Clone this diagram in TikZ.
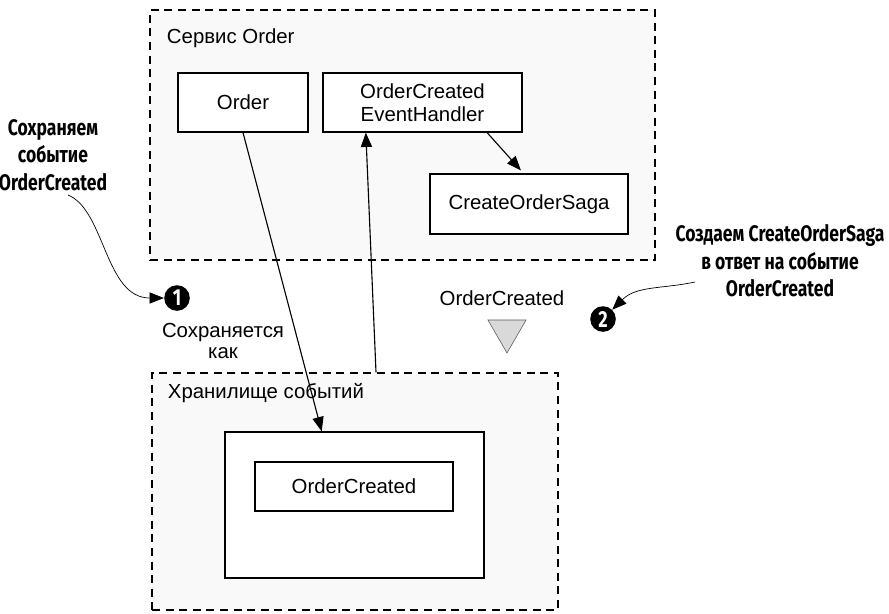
\documentclass[tikz,border=0pt]{standalone}
\usepackage{fontspec}
\setmainfont{Liberation Sans}
\newfontfamily\notefont[FakeStretch=0.78]{Fira Sans}
\usetikzlibrary{arrows.meta,positioning,shapes.geometric}

\begin{document}
\begin{tikzpicture}[font=\fontsize{14.5}{16.4}\selectfont,>={Triangle[length=0.36cm,width=0.28cm]},
  group/.style={draw,line width=0.9pt,dash pattern=on 0.2cm off 0.14cm,fill=gray!5},
  box/.style={draw,line width=0.9pt,fill=white,align=center,inner sep=2pt},
  note/.style={align=center,font=\notefont\bfseries\fontsize{16}{19.6}\selectfont},
  num/.style={circle,fill=black,text=white,inner sep=0pt,minimum size=0.64cm,font=\notefont\bfseries\fontsize{16.5}{16.5}\selectfont}]
  \useasboundingbox (0,0) rectangle (22.225,-15.325);
  % Order service
  \node[group,minimum width=12.625cm,minimum height=6.25cm] (svc) at (10.0625,-3.375) {};
  \node[anchor=west] (svctitle) at (4.05,-0.95) {Сервис Order};
  \node[box,minimum width=3.25cm,minimum height=1.475cm] (order) at (6.075,-2.5625) {Order};
  \node[box,minimum width=4.975cm,minimum height=1.475cm] (handler) at (10.5625,-2.5625) {OrderCreated\\EventHandler};
  \node[box,minimum width=4.95cm,minimum height=1.5cm] (saga) at (13.225,-5.1) {CreateOrderSaga};
  % event store
  \node[group,minimum width=10.15cm,minimum height=5.925cm] (esg) at (8.875,-12.2875) {};
  \node[anchor=west] (esgtitle) at (4.075,-9.825) {Хранилище событий};
  \node[box,minimum width=6.475cm,minimum height=3.65cm] (store) at (8.8625,-12.625) {};
  \node[box,minimum width=4.95cm,minimum height=1.225cm] (stored) at (8.85,-12.1625) {OrderCreated};
  % event
  \node[regular polygon,regular polygon sides=3,shape border rotate=180,draw=gray!70!black,fill=gray!30,
    minimum size=1.1cm,inner sep=0pt] (evt) at (12.675,-8.275) {};
  \node (evtlabel) at (12.55,-7.45) {OrderCreated};
  \node[align=center] (saved) at (5.575,-8.525) {Сохраняется\\[-1pt]как};
  % callouts
  \node[num] (c1) at (4.425,-7.45) {1};
  \node[num] (c2) at (15.075,-7.975) {2};
  \node[note] (note1) at (1.325,-3.875) {Сохраняем\\событие\\OrderCreated};
  \node[note] (note2) at (19.5,-6.525) {Создаем CreateOrderSaga\\в ответ на событие\\OrderCreated};
  \coordinate (n1tail) at (1.7,-4.875);
  \coordinate (n2tail) at (17.375,-7.05);
  \draw[->,line width=0.8pt] (order.south) -- (store.114);
  \draw[->,line width=0.8pt] (esg.80) -- (handler.208);
  \draw[->,line width=0.8pt,shorten >=0.1cm] (handler.-25) -- (saga.100);
  \draw[->,line width=0.5pt] (n1tail) .. controls (2.625,-5.25) and (2.625,-7.45) .. (c1);
  \draw[->,line width=0.5pt] (n2tail) to[out=192,in=45] (c2);
\end{tikzpicture}
\end{document}
